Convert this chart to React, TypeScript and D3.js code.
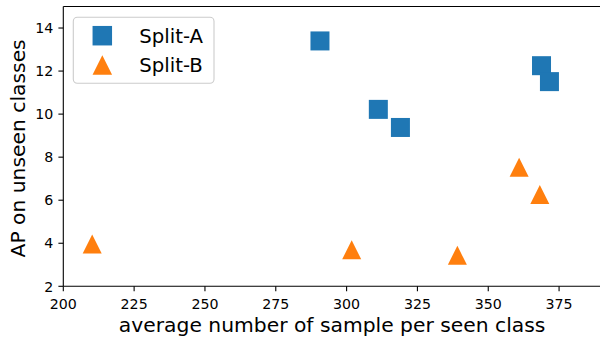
import React from "react";
import * as d3 from "d3";

const splitA_x = [290.6, 311.2, 319.0, 368.8, 371.6];
const splitA_y = [13.4, 10.22, 9.38, 12.25, 11.51];
const splitB_x = [210.2, 301.8, 339.1, 360.9, 368.2];
const splitB_y = [3.97, 3.7, 3.44, 7.53, 6.27];
const xTicks = [200, 225, 250, 275, 300, 325, 350, 375];
const yTicks = [2, 4, 6, 8, 10, 12, 14];
const seriesNames = ["Split-A", "Split-B"];
const xLabel = "average number of sample per seen class";
const yLabel = "AP on unseen classes";

const W = 600;
const H = 337;
const left = 63.3;
const top = 6.5;
const bottom = 286.3;
const x = d3.scaleLinear().domain([200, 390]).range([left, left + 190 * 2.833]);
const y = d3.scaleLinear().domain([2, 15]).range([bottom, top]);

const BLUE = "#1f77b4";
const ORANGE = "#ff7f0e";
const FONT = "'DejaVu Sans', sans-serif";
const M = 19;

const tri = (cx: number, cy: number, s: number) =>
  `M${cx},${cy - s / 2}L${cx - s / 2},${cy + s / 2}L${cx + s / 2},${cy + s / 2}Z`;

export default function App() {
  return (
    <svg
      width={W}
      height={H}
      style={{ position: "fixed", left: 0, top: 0, background: "#fff" }}
      fontFamily={FONT}
    >
      <rect x={0} y={0} width={W} height={H} fill="#fff" />
      {splitA_x.map((v, i) => (
        <rect
          key={"a" + i}
          x={x(v) - M / 2}
          y={y(splitA_y[i]) - M / 2}
          width={M}
          height={M}
          fill={BLUE}
        />
      ))}
      {splitB_x.map((v, i) => (
        <path key={"b" + i} d={tri(x(v), y(splitB_y[i]), M)} fill={ORANGE} />
      ))}
      <line x1={left} x2={left} y1={top} y2={bottom} stroke="#000" strokeWidth={1.1} />
      <line x1={left} x2={x(390)} y1={bottom} y2={bottom} stroke="#000" strokeWidth={1.1} />
      <line x1={left} x2={x(390)} y1={top} y2={top} stroke="#000" strokeWidth={1.1} />
      <line x1={x(390)} x2={x(390)} y1={top} y2={bottom} stroke="#000" strokeWidth={1.1} />
      {xTicks.map((t) => (
        <g key={"xt" + t}>
          <line x1={x(t)} x2={x(t)} y1={bottom} y2={bottom + 4.9} stroke="#000" strokeWidth={1.1} />
          <text x={x(t)} y={308.5} fontSize={14.2} textAnchor="middle" fill="#000">
            {t}
          </text>
        </g>
      ))}
      {yTicks.map((t) => (
        <g key={"yt" + t}>
          <line x1={left - 4.9} x2={left} y1={y(t)} y2={y(t)} stroke="#000" strokeWidth={1.1} />
          <text x={53.2} y={y(t) + 5.2} fontSize={14.2} textAnchor="end" fill="#000">
            {t}
          </text>
        </g>
      ))}
      <text x={(118.3 + 546) / 2} y={331.8} fontSize={20.3} textAnchor="middle" fill="#000">
        {xLabel}
      </text>
      <text
        transform={`translate(25, ${(top + bottom) / 2 + 2}) rotate(-90)`}
        fontSize={20.3}
        textAnchor="middle"
        fill="#000"
      >
        {yLabel}
      </text>
      <rect
        x={73.3}
        y={17.3}
        width={140.7}
        height={66}
        rx={4}
        fill="#fff"
        fillOpacity={0.8}
        stroke="#cccccc"
        strokeWidth={1.1}
      />
      <rect x={102.3 - 9.75} y={35.7 - 9.75} width={19.5} height={19.5} fill={BLUE} />
      <path d={tri(102.3, 65, 19.5)} fill={ORANGE} />
      <text x={139.3} y={35.7 + 7.2} fontSize={19.7} fill="#000">
        {seriesNames[0]}
      </text>
      <text x={139.3} y={65 + 7.2} fontSize={19.7} fill="#000">
        {seriesNames[1]}
      </text>
    </svg>
  );
}
